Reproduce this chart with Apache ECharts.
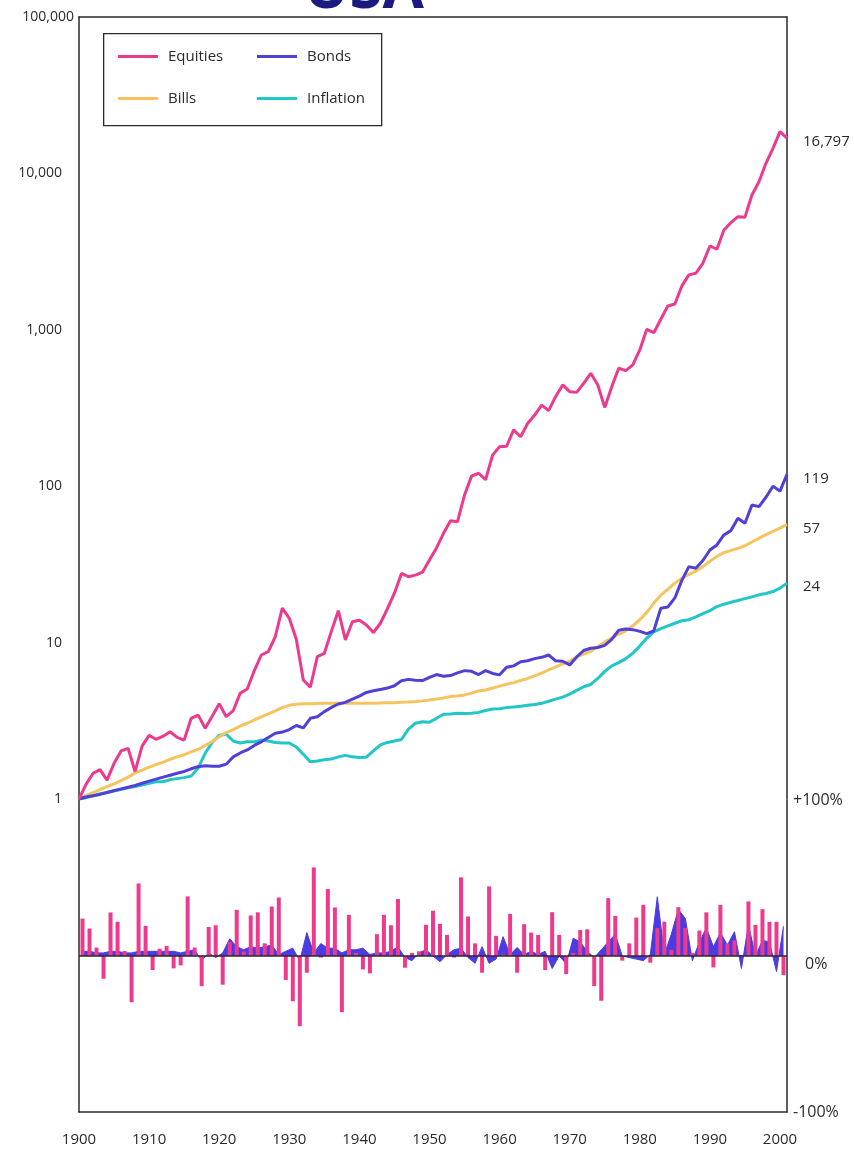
<!DOCTYPE html>
<html>
<head>
<meta charset="utf-8">
<script src="https://cdn.jsdelivr.net/npm/echarts@6/dist/echarts.min.js"></script>
<style>
  html, body { margin: 0; padding: 0; background: #ffffff; }
  #chart { width: 854px; height: 1151px; }
</style>
</head>
<body>
<div id="chart"></div>
<script>
// ---- Data ----
// Index points: start of 1900 ... end of 2000 (102 points), value of $1 invested at start of 1900
const seriesNames = ['Equities', 'Bonds', 'Bills', 'Inflation'];
const equities = [1.00, 1.24, 1.46, 1.54, 1.32, 1.69, 2.03, 2.11, 1.50, 2.18,
  2.55, 2.41, 2.52, 2.69, 2.48, 2.38, 3.28, 3.44, 2.83, 3.38,
  4.07, 3.36, 3.67, 4.75, 5.05, 6.60, 8.33, 8.75, 10.9, 16.6,
  14.3, 10.5, 5.77, 5.18, 8.13, 8.54, 11.8, 16.0, 10.4, 13.6,
  13.9, 12.96, 11.6, 13.3, 16.5, 20.7, 27.7, 26.4, 27.0, 28.2,
  33.7, 40.3, 50.0, 60.1, 59.3, 87.9, 116, 121, 110, 158,
  179, 180, 229, 207, 252, 285, 330, 304, 375, 444,
  402, 398, 455, 527, 445, 319, 433, 568, 548, 596,
  743, 1007, 958, 1167, 1420, 1462, 1908, 2245, 2299, 2663,
  3436, 3273, 4349, 4841, 5290, 5250, 7280, 8850, 11600, 14460,
  18500, 16797];
const bonds = [1.00, 1.03, 1.05, 1.07, 1.10, 1.13, 1.16, 1.19, 1.22, 1.26,
  1.30, 1.34, 1.38, 1.42, 1.46, 1.50, 1.56, 1.61, 1.63, 1.62,
  1.62, 1.67, 1.86, 1.97, 2.06, 2.20, 2.32, 2.47, 2.63, 2.68,
  2.78, 2.95, 2.85, 3.28, 3.36, 3.62, 3.85, 4.05, 4.15, 4.35,
  4.55, 4.80, 4.92, 5.02, 5.12, 5.30, 5.70, 5.82, 5.75, 5.72,
  6.00, 6.25, 6.10, 6.15, 6.40, 6.62, 6.55, 6.25, 6.62, 6.35,
  6.22, 6.95, 7.10, 7.55, 7.65, 7.90, 8.05, 8.33, 7.65, 7.60,
  7.20, 8.10, 8.90, 9.20, 9.30, 9.60, 10.5, 12.0, 12.2, 12.1,
  11.8, 11.4, 11.9, 16.6, 16.9, 19.3, 25.0, 30.6, 29.9, 33.5,
  39.1, 42.1, 48.8, 52.0, 62.3, 57.9, 75.8, 74.0, 85.0, 100,
  93, 119];
const bills = [1.00, 1.05, 1.10, 1.15, 1.20, 1.25, 1.31, 1.38, 1.47, 1.53,
  1.60, 1.66, 1.72, 1.79, 1.86, 1.92, 2.00, 2.08, 2.20, 2.33,
  2.50, 2.66, 2.78, 2.92, 3.05, 3.20, 3.35, 3.50, 3.66, 3.84,
  3.97, 4.03, 4.06, 4.07, 4.08, 4.09, 4.09, 4.10, 4.10, 4.10,
  4.10, 4.10, 4.10, 4.11, 4.12, 4.13, 4.15, 4.17, 4.20, 4.24,
  4.29, 4.36, 4.43, 4.52, 4.56, 4.63, 4.75, 4.90, 4.98, 5.12,
  5.27, 5.41, 5.55, 5.72, 5.90, 6.12, 6.38, 6.70, 7.00, 7.30,
  7.60, 8.10, 8.45, 8.80, 9.40, 10.1, 10.7, 11.3, 11.9, 12.8,
  14.0, 15.6, 17.9, 20.1, 21.9, 24.0, 25.8, 27.3, 28.7, 30.6,
  33.1, 35.6, 37.6, 38.9, 40.0, 41.6, 44.0, 46.5, 49.0, 51.5,
  54.0, 57];
const inflation = [1.00, 1.02, 1.05, 1.08, 1.10, 1.13, 1.15, 1.18, 1.20, 1.23,
  1.26, 1.29, 1.29, 1.33, 1.35, 1.37, 1.40, 1.58, 1.96, 2.30,
  2.55, 2.60, 2.35, 2.28, 2.32, 2.32, 2.38, 2.35, 2.30, 2.28,
  2.28, 2.15, 1.93, 1.73, 1.75, 1.78, 1.80, 1.86, 1.90, 1.86,
  1.84, 1.85, 2.03, 2.22, 2.30, 2.35, 2.40, 2.80, 3.05, 3.12,
  3.10, 3.28, 3.48, 3.50, 3.53, 3.52, 3.53, 3.58, 3.68, 3.76,
  3.78, 3.84, 3.87, 3.92, 3.98, 4.02, 4.09, 4.22, 4.35, 4.48,
  4.68, 4.95, 5.22, 5.40, 5.90, 6.55, 7.10, 7.45, 7.90, 8.55,
  9.50, 10.7, 11.7, 12.3, 12.8, 13.3, 13.8, 14.0, 14.6, 15.3,
  16.0, 17.0, 17.6, 18.1, 18.6, 19.1, 19.6, 20.2, 20.6, 21.2,
  22.3, 24];
const endLabels = ['16,797', '119', '57', '24'];

// Annual returns (%) for 1900 ... 2000
const equityReturns = [24, 17.6, 5.4, -14.6, 27.9, 21.9, 3.2, -29.6, 46.5, 19.3,
  -9, 4.7, 6.4, -7.9, -6, 38.2, 5.4, -19.3, 18.6, 19.7,
  -18.4, 9, 29.6, 3, 26, 28, 8.1, 31.7, 37.5, -15.4,
  -29, -45, -10.7, 56.8, -1, 42.9, 31.1, -36, 26.4, 2,
  -8.6, -11.1, 14, 26.4, 19.7, 36.5, -7.5, 2, 3, 20,
  29, 20.6, 13.5, -1, 50.4, 25.3, 8.1, -10.7, 44.6, 12.9,
  1, 27, -10.7, 20.4, 15, 13.5, -9, 28.1, 13.5, -11.6,
  2, 16.7, 17.1, -19.3, -28.7, 37.1, 25.7, -3, 8.1, 24.6,
  32.8, -4.3, 17.8, 22, 4, 31.3, 18, 2, 16.3, 28,
  -7.3, 32.8, 8, 10, 0.5, 35, 20, 30, 21.9, 21.9,
  -12.2];
const bondReturns = [3, 3, 2, 2, 3, 3, 2, 2, 3, 3,
  3, 3, 3, 3, 2, 3, 4, -3, 2, -1,
  2, 11, 6, 4, 6, 5, 6, 7, 1, 3,
  5, -3, 15, 2, 8, 5, 5, 2, 4, 4,
  5, 1, 2, 2, 3, 6, -1, -3, 2, 4,
  0, -3.7, 1, 4, 5, -1, -4.7, 6, -4.7, -2,
  12.4, 1, 5.4, 1, 3, 1, 3, -8, 0, -5,
  11.4, 9, 3, -1, 4, 9, 14, 0, -1, -2,
  -3, 1, 38, 1, 14, 30, 24, -3, 9, 18,
  6, 15, 7, 15.6, -8, 20, 0, 10, 9, -10,
  19];

// Tick labels
const logTickLabels = ['1', '10', '100', '1,000', '10,000', '100,000'];
const returnTickLabels = { '-100': '-100%', '0': '0%', '100': '+100%' };

// Categories
const indexYears = [];
for (let y = 1900; y <= 2001; y++) indexYears.push(String(y));
const returnYears = indexYears.slice(0, 101);

// ---- Styles ----
const FONT = '"Open Sans", "Noto Sans", sans-serif';
const TEXT = '#2b2b2b';
const FRAME = { show: true, onZero: false, lineStyle: { color: '#2a2a2a', width: 1.5 } };
const colors = { Equities: '#EC3A8E', Bonds: '#5040D8', Bills: '#F6C35E', Inflation: '#20C6C8' };
const dataMap = { Equities: equities, Bonds: bonds, Bills: bills, Inflation: inflation };

const chart = echarts.init(document.getElementById('chart'), null, { renderer: 'canvas' });

const lineSeries = seriesNames.map((name, k) => ({
  name: name,
  type: 'line',
  xAxisIndex: 0,
  yAxisIndex: 0,
  data: dataMap[name],
  symbol: 'none',
  smooth: false,
  z: 10 - k,
  lineStyle: { color: colors[name], width: 3 },
  itemStyle: { color: colors[name] },
  endLabel: {
    show: true,
    formatter: () => endLabels[k],
    distance: 16,
    offset: [0, 4],
    color: TEXT,
    fontSize: 15,
    fontFamily: FONT
  },
  emphasis: { disabled: true }
})).reverse();

const legendText = { color: TEXT, fontSize: 15, fontFamily: FONT, padding: [0, 0, 0, 5] };

const option = {
  animation: false,
  backgroundColor: '#ffffff',
  textStyle: { fontFamily: FONT },
  grid: [
    { left: 79, right: 67, top: 17, height: 782 },
    { left: 79, right: 67, top: 800, height: 312 }
  ],
  legend: [
    {
      orient: 'vertical', left: 118, top: 49, itemGap: 27, padding: 0,
      data: ['Equities', 'Bills'],
      icon: 'rect', itemWidth: 40, itemHeight: 3,
      selectedMode: false,
      textStyle: legendText
    },
    {
      orient: 'vertical', left: 257, top: 49, itemGap: 27, padding: 0,
      data: ['Bonds', 'Inflation'],
      icon: 'rect', itemWidth: 40, itemHeight: 3,
      selectedMode: false,
      textStyle: legendText
    }
  ],
  graphic: [
    {
      type: 'rect', left: 103, top: 33, z: 1,
      shape: { width: 278, height: 92 },
      style: { fill: '#ffffff', stroke: '#2a2a2a', lineWidth: 1.3 }
    },
    {
      type: 'text', z: 5,
      style: {
        x: 364, y: 21, text: 'USA', textAlign: 'center', textVerticalAlign: 'bottom',
        fill: '#1b1a80', font: 'bold 60px "Open Sans", sans-serif'
      }
    }
  ],
  xAxis: [
    {
      type: 'category', gridIndex: 0, data: indexYears, boundaryGap: false, position: 'top',
      axisLine: FRAME, axisTick: { show: false }, axisLabel: { show: false }, splitLine: { show: false }
    },
    {
      type: 'category', gridIndex: 1, data: returnYears, boundaryGap: true, position: 'top',
      show: false
    },
    {
      type: 'category', gridIndex: 1, data: indexYears, boundaryGap: false, position: 'bottom',
      axisLine: FRAME, axisTick: { show: false }, splitLine: { show: false },
      axisLabel: { interval: 9, color: TEXT, fontSize: 15, margin: 20, fontFamily: FONT }
    }
  ],
  yAxis: [
    {
      type: 'log', logBase: 10, gridIndex: 0, min: 1, max: 100000, splitNumber: 5, position: 'left',
      axisLine: FRAME, axisTick: { show: false }, splitLine: { show: false },
      axisLabel: {
        color: TEXT, fontSize: 14, margin: 5, fontFamily: FONT,
        formatter: v => {
          const t = logTickLabels[Math.round(Math.log10(v))];
          return v >= 100000 ? t : '{p|' + t + '}';
        },
        rich: { p: { padding: [0, 12, 0, 0], color: TEXT, fontSize: 14, fontFamily: FONT } }
      }
    },
    {
      type: 'log', logBase: 10, gridIndex: 0, min: 1, max: 100000, position: 'right',
      axisLine: FRAME, axisTick: { show: false }, splitLine: { show: false }, axisLabel: { show: false }
    },
    {
      type: 'value', gridIndex: 1, min: -100, max: 100, interval: 100, position: 'left',
      axisLine: FRAME, axisTick: { show: false }, splitLine: { show: false }, axisLabel: { show: false }
    },
    {
      type: 'value', gridIndex: 1, min: -100, max: 100, interval: 100, position: 'right',
      axisLine: FRAME, axisTick: { show: false }, splitLine: { show: false },
      axisLabel: {
        color: TEXT, fontSize: 16, margin: 6, fontFamily: FONT,
        formatter: v => v === 0 ? '{z|' + returnTickLabels['0'] + '}' : returnTickLabels[String(v)],
        rich: { z: { padding: [16, 0, 0, 12], color: TEXT, fontSize: 16, fontFamily: FONT } }
      }
    }
  ],
  series: [
    {
      name: 'Bond returns',
      type: 'line',
      xAxisIndex: 1, yAxisIndex: 2,
      data: bondReturns,
      symbol: 'none',
      z: 2,
      lineStyle: { color: '#4A3BE2', width: 1 },
      areaStyle: { color: '#4A3BE2', opacity: 1 },
      emphasis: { disabled: true }
    },
    {
      name: 'Equity returns',
      type: 'bar',
      xAxisIndex: 1, yAxisIndex: 2,
      data: equityReturns,
      barWidth: 4,
      z: 3,
      itemStyle: { color: '#EE3A8C' },
      emphasis: { disabled: true },
      markLine: {
        silent: true, symbol: 'none', label: { show: false },
        lineStyle: { color: '#2a2a2a', width: 1.5, type: 'solid' },
        data: [{ yAxis: 0 }]
      }
    }
  ].concat(lineSeries)
};

chart.setOption(option);
</script>
</body>
</html>
